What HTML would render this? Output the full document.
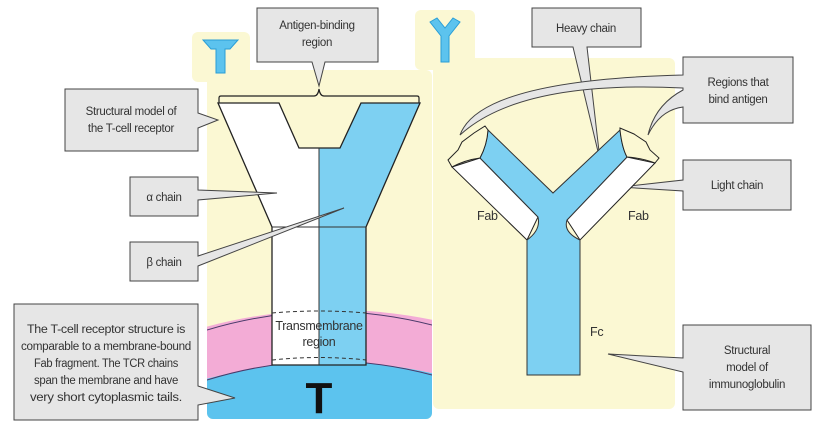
<!DOCTYPE html>
<html><head><meta charset="utf-8"><style>
html,body{margin:0;padding:0;background:#fff;}
svg{display:block}
text{font-family:"Liberation Sans Narrow","Liberation Sans",sans-serif;fill:#333;font-size:11.5px;letter-spacing:-0.3px}
</style></head><body>
<svg width="821" height="447" viewBox="0 0 821 447" xmlns="http://www.w3.org/2000/svg">
<defs>
<clipPath id="lp"><rect x="207" y="70" width="225" height="349" rx="6"/></clipPath>
</defs>
<rect x="207" y="70" width="225" height="349" rx="6" fill="#fbf8d3"/>
<g clip-path="url(#lp)">
<path d="M150 345 Q320 280 490 335 L490 390 Q320 330 150 398 Z" fill="#f3acd6"/>
<path d="M150 398 Q320 330 490 390 L490 430 L150 430 Z" fill="#5cc3ee"/>
<path d="M207 330 Q320 296 432 325" fill="none" stroke="#4a3a6a" stroke-width="1"/>
<path d="M207 380 Q320 345 432 375" fill="none" stroke="#4a3a6a" stroke-width="1"/>
</g>
<rect x="433" y="58" width="242" height="351" rx="6" fill="#fbf8d3"/>
<rect x="192" y="32" width="58" height="50" rx="6" fill="#fbf8d3"/>
<path d="M203 40 L238 40 L230 49 L225 49 L225 73 L216 73 L216 49 L211 49 Z" fill="#5cc3ee" stroke="#2a9ed6"/>
<rect x="415" y="10" width="60" height="60" rx="6" fill="#fbf8d3"/>
<path d="M430 22 L437 18 L445 28 L453 18 L460 22 L449 36 L449 62 L441 62 L441 36 Z" fill="#5cc3ee" stroke="#2a9ed6"/>
<path d="M218 103 L279 103 L299 148 L319 148 L319 365 L272 365 L272 227 Z" fill="#fff"/>
<path d="M319 148 L340 148 L361 103 L420 103 L366 227 L366 365 L319 365 Z" fill="#7dd0f2"/>
<path d="M218 103 L279 103 L299 148 L340 148 L361 103 L420 103 L366 227 L366 365 L272 365 L272 227 Z" fill="none" stroke="#222" stroke-width="1.3"/>
<line x1="319" y1="148" x2="319" y2="365" stroke="#333"/>
<line x1="272" y1="227" x2="366" y2="227" stroke="#333"/>
<path d="M272 313 Q319 309 366 313 M272 360 Q319 355 366 360" fill="none" stroke="#333" stroke-dasharray="4,3"/>
<text x="319" y="330" text-anchor="middle" style="font-size:12.5px">Transmembrane</text>
<text x="319" y="346" text-anchor="middle" style="font-size:12.5px">region</text>
<text x="319" y="413" text-anchor="middle" style="font-family:'Liberation Sans',sans-serif;font-weight:bold;font-size:44px;fill:#111;letter-spacing:0">T</text>
<path d="M219 103 L219 98 Q219 96 221 96 L314 96 Q318 96 319 89 Q320 96 324 96 L417 96 Q419 96 419 98 L419 103" fill="none" stroke="#222" stroke-width="1.2"/>
<g fill="#e6e6e6" stroke="#444" stroke-width="1">
<path d="M257 8 L378 8 L378 62 L325 62 L319 86 L312 62 L257 62 Z"/>
<path d="M65 89 L198 89 L198 113 L218 120 L198 128 L198 151 L65 151 Z"/>
<path d="M130 177 L198 177 L198 190 L277 193 L198 200 L198 216 L130 216 Z"/>
<path d="M130 242 L198 242 L198 256 L344 208 L198 266 L198 281 L130 281 Z"/>
<path d="M14 304 L198 304 L198 386 L235 398 L198 405 L198 420 L14 420 Z"/>
<path d="M532 8 L641 8 L641 47 L587 47 L600 160 L573 47 L532 47 Z"/>
<path d="M683 57 L793 57 L793 123 L683 123 L683 107 Q660 110 648 135 Q655 105 683 90 L683 88 Q520 80 460 135 Q480 80 683 75 Z"/>
<path d="M683 160 L791 160 L791 210 L683 210 L683 191 L620 187 L683 180 Z"/>
<path d="M683 325 L811 325 L811 410 L683 410 L683 372 L608 354 L683 358 Z"/>
</g>
<text x="317" y="29" text-anchor="middle">Antigen-binding</text>
<text x="317" y="46" text-anchor="middle">region</text>
<text x="131" y="115" text-anchor="middle">Structural model of</text>
<text x="131" y="132" text-anchor="middle">the T-cell receptor</text>
<text x="164" y="201" text-anchor="middle">α chain</text>
<text x="164" y="266" text-anchor="middle">β chain</text>
<text x="106" y="333" text-anchor="middle" textLength="158" lengthAdjust="spacingAndGlyphs">The T-cell receptor structure is</text>
<text x="106" y="350" text-anchor="middle" textLength="170" lengthAdjust="spacingAndGlyphs">comparable to a membrane-bound</text>
<text x="106" y="367" text-anchor="middle" textLength="144" lengthAdjust="spacingAndGlyphs">Fab fragment. The TCR chains</text>
<text x="106" y="384" text-anchor="middle" textLength="144" lengthAdjust="spacingAndGlyphs">span the membrane and have</text>
<text x="106" y="401" text-anchor="middle" textLength="152" lengthAdjust="spacingAndGlyphs">very short cytoplasmic tails.</text>
<text x="586" y="32" text-anchor="middle">Heavy chain</text>
<text x="738" y="86" text-anchor="middle">Regions that</text>
<text x="738" y="103" text-anchor="middle">bind antigen</text>
<text x="737" y="189" text-anchor="middle">Light chain</text>
<text x="747" y="354" text-anchor="middle">Structural</text>
<text x="747" y="371" text-anchor="middle">model of</text>
<text x="747" y="388" text-anchor="middle">immunoglobulin</text>
<path d="M480 158 L538 217 L527 240 L452 167 Z" fill="#fff" stroke="#222"/>
<path d="M627 157 L655 163 L580 240 L567 220 Z" fill="#fff" stroke="#222"/>
<path d="M488 130 L553 193 L620 130 Q622 148 627 157 L567 220 Q563 232 580 240 L580 375 L527 375 L527 240 Q541 230 538 217 L480 158 Q487 145 488 130 Z" fill="#7dd0f2" stroke="#333" stroke-width="1"/>
<path d="M452 167 L448 160 L458 150 L462 142 L474 133 L485 126 L488 130 Q487 145 480 158 Q465 160 452 167 Z" fill="#fbf8d3" stroke="#222"/>
<path d="M655 163 L659 158 L650 150 L646 142 L634 134 L620 128 L620 130 Q622 148 627 157 Q642 158 655 163 Z" fill="#fbf8d3" stroke="#222"/>
<text x="477" y="220" style="font-size:12.5px">Fab</text>
<text x="628" y="220" style="font-size:12.5px">Fab</text>
<text x="590" y="336" style="font-size:12.5px">Fc</text>
</svg>
</body></html>
